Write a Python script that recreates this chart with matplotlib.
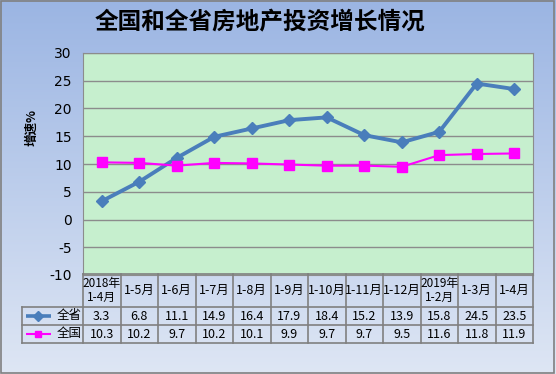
import numpy as np
import matplotlib.pyplot as plt
from matplotlib.lines import Line2D

plt.rcParams['font.family'] = ['Noto Sans CJK SC', 'DejaVu Sans']

# 数据
categories = ['2018年\n1-4月', '1-5月', '1-6月', '1-7月', '1-8月', '1-9月', '1-10月',
              '1-11月', '1-12月', '2019年\n1-2月', '1-3月', '1-4月']
province = [3.3, 6.8, 11.1, 14.9, 16.4, 17.9, 18.4, 15.2, 13.9, 15.8, 24.5, 23.5]
national = [10.3, 10.2, 9.7, 10.2, 10.1, 9.9, 9.7, 9.7, 9.5, 11.6, 11.8, 11.9]
series_names = ['全省', '全国']
yticks = list(range(-10, 31, 5))

W, H = 556, 374
fig = plt.figure(figsize=(W / 100, H / 100), dpi=100)

# 背景渐变
bg = fig.add_axes([0, 0, 1, 1])
top = np.array([155, 181, 227]) / 255
bot = np.array([222, 230, 244]) / 255
t = np.linspace(0, 1, 200)[:, None]
grad = top * (1 - t) + bot * t
bg.imshow(grad[:, None, :], aspect='auto', extent=[0, 1, 0, 1])
bg.set_xlim(0, 1)
bg.set_ylim(0, 1)
bg.axis('off')
bg.add_patch(plt.Rectangle((0.002, 0.003), 0.995, 0.994, fill=False, ec='#808080', lw=1.2))


def fx(px):
    return px / W


def fy(py):
    return 1 - py / H


# 主图
pl, pr, pt, pb = 83, 533, 53, 275
ax = fig.add_axes([fx(pl), fy(pb), fx(pr - pl), (pb - pt) / H])
ax.set_facecolor('#C6EFCE')
x = np.arange(len(categories))
ax.plot(x, province, color='#4A7EBB', lw=2.8, marker='D', ms=6.5, zorder=3)
ax.plot(x, national, color='#FF00FF', lw=1.5, marker='s', ms=6.5, zorder=3)
ax.set_xlim(-0.5, len(categories) - 0.5)
ax.set_ylim(-10, 30)
ax.set_yticks(yticks)
ax.set_yticklabels([str(v) for v in yticks], fontsize=10, family='DejaVu Sans')
ax.tick_params(axis='y', length=0, pad=8)
ax.set_xticks([])
ax.grid(axis='y', color='#8C8C8C', lw=1)
ax.set_axisbelow(True)
for s in ax.spines.values():
    s.set_color('#8C8C8C')

# 标题、y轴标签
fig.text(fx(260), fy(22), '全国和全省房地产投资增长情况', ha='center', va='center',
         fontsize=17, fontweight='bold')
fig.text(fx(32), fy(128), '增速%', rotation=90, ha='center', va='center',
         fontsize=9, fontweight='bold')

# 数据表
tl, tt, tb = 22, 274, 343
tab = fig.add_axes([fx(tl), fy(tb), fx(pr - tl), (tb - tt) / H])
unit = (pr - pl) / len(categories)
left = -0.5 - (pl - tl) / unit
tab.set_xlim(left, len(categories) - 0.5)
tab.set_ylim(tb - tt, 0)
tab.axis('off')
rows = [0, 33, 51, 69]
gc = '#808080'
tab.plot([-0.5, len(categories) - 0.5], [0, 0], color=gc, lw=1.2, clip_on=False)
for r in rows[1:]:
    tab.plot([left, len(categories) - 0.5], [r, r], color=gc, lw=1.2, clip_on=False)
tab.plot([left, left], [rows[1], rows[3]], color=gc, lw=1.2, clip_on=False)
for i in range(len(categories) + 1):
    tab.plot([i - 0.5, i - 0.5], [0, rows[3]], color=gc, lw=1.2, clip_on=False)
for i, c in enumerate(categories):
    tab.text(i, 16.5, c, ha='center', va='center', fontsize=8.5 if '\n' in c else 9,
             linespacing=1.1)
    tab.text(i, 42, f'{province[i]}', ha='center', va='center', fontsize=9)
    tab.text(i, 60, f'{national[i]}', ha='center', va='center', fontsize=9)


def ux(px):
    return left + (px - tl) / unit


# 图例
for r, col, mk, lw, name in [(42, '#4A7EBB', 'D', 2.6, series_names[0]),
                             (60, '#FF00FF', 's', 1.5, series_names[1])]:
    lx0, lx1 = ux(26), ux(51)
    tab.add_line(Line2D([lx0, lx1], [r, r], color=col, lw=lw, clip_on=False,
                        solid_capstyle='butt'))
    tab.plot([(lx0 + lx1) / 2], [r], marker=mk, color=col, ms=5, clip_on=False)
    tab.text(ux(69), r, name, ha='center', va='center', fontsize=9)

fig.savefig('out.png', dpi=100)
